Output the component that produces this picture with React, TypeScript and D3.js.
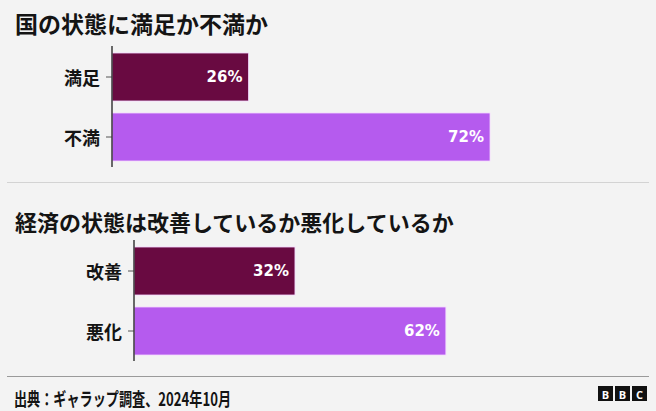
import * as d3 from "d3";

// 国の状態に満足か不満か
const countryCategories = ["満足", "不満"];
const countryValues = [26, 72];

// 経済の状態は改善しているか悪化しているか
const economyCategories = ["改善", "悪化"];
const economyValues = [32, 62];

const titles = ["国の状態に満足か不満か", "経済の状態は改善しているか悪化しているか"];
const source = "出典：ギャラップ調査、2024年10月";

const colors = ["#690a41", "#b55bee"];
const W = 656;
const H = 411;
const jp = "'Noto Sans CJK JP', 'Noto Sans', sans-serif";

interface PanelProps {
  categories: string[];
  values: number[];
  left: number;
  top: number;
  bottom: number;
}

function BarPanel({ categories, values, left, top, bottom }: PanelProps) {
  const x = d3.scaleLinear().domain([0, 100]).range([left, 637]);
  const y = d3
    .scaleBand<string>()
    .domain(categories)
    .range([top, bottom])
    .paddingInner(0.2)
    .paddingOuter(0.1);

  return (
    <g>
      {categories.map((c, i) => (
        <g key={c}>
          <rect
            x={x(0)}
            y={y(c)!}
            width={x(values[i]) - x(0)}
            height={y.bandwidth()}
            fill={colors[i]}
            stroke="#f4d6ff"
            strokeWidth={0.8}
          />
          <text
            x={x(values[i]) - 6}
            y={y(c)! + y.bandwidth() / 2}
            dominantBaseline="central"
            textAnchor="end"
            fill="#fff"
            fontFamily="'DejaVu Sans', sans-serif"
            fontWeight={700}
            fontSize={15}
          >
            {values[i]}%
          </text>
          <line
            x1={x(0) - 6}
            x2={x(0)}
            y1={y(c)! + y.bandwidth() / 2}
            y2={y(c)! + y.bandwidth() / 2}
            stroke="#555"
            strokeWidth={1}
          />
          <text
            x={x(0) - 12}
            y={y(c)! + y.bandwidth() / 2}
            dominantBaseline="central"
            textAnchor="end"
            fill="#141414"
            fontFamily={jp}
            fontWeight={700}
            fontSize={18}
          >
            {c}
          </text>
        </g>
      ))}
      <line x1={x(0)} x2={x(0)} y1={top - 1} y2={bottom} stroke="#3a3a3a" strokeWidth={1.5} />
    </g>
  );
}

export default function App() {
  return (
    <svg
      width={W}
      height={H}
      style={{ position: "absolute", left: 0, top: 0, background: "#f3f3f3" }}
    >
      <rect width={W} height={H} fill="#f3f3f3" />
      <text x={15} y={23} dominantBaseline="central" fill="#141414" fontFamily={jp} fontWeight={700} fontSize={23}>
        {titles[0]}
      </text>
      <BarPanel categories={countryCategories} values={countryValues} left={112} top={47} bottom={167} />
      <line x1={7} x2={649} y1={182.5} y2={182.5} stroke="#d3d3d3" strokeWidth={1} />
      <text x={15} y={221} dominantBaseline="central" fill="#141414" fontFamily={jp} fontWeight={700} fontSize={22}>
        {titles[1]}
      </text>
      <BarPanel categories={economyCategories} values={economyValues} left={134} top={241} bottom={361} />
      <line x1={7} x2={649} y1={376.5} y2={376.5} stroke="#9a9a9a" strokeWidth={1} />
      <text
        x={14}
        y={398}
        dominantBaseline="central"
        fill="#141414"
        fontFamily={jp}
        fontWeight={700}
        fontSize={18}
        textLength={217}
        lengthAdjust="spacingAndGlyphs"
      >
        {source}
      </text>
      {["B", "B", "C"].map((l, i) => (
        <g key={i} transform={`translate(${598 + i * 17},386)`}>
          <rect width={15} height={15} fill="#111" />
          <text
            x={7.5}
            y={8}
            textAnchor="middle"
            dominantBaseline="central"
            fill="#fff"
            fontFamily="'Open Sans', sans-serif"
            fontWeight={700}
            fontSize={11}
          >
            {l}
          </text>
        </g>
      ))}
    </svg>
  );
}
